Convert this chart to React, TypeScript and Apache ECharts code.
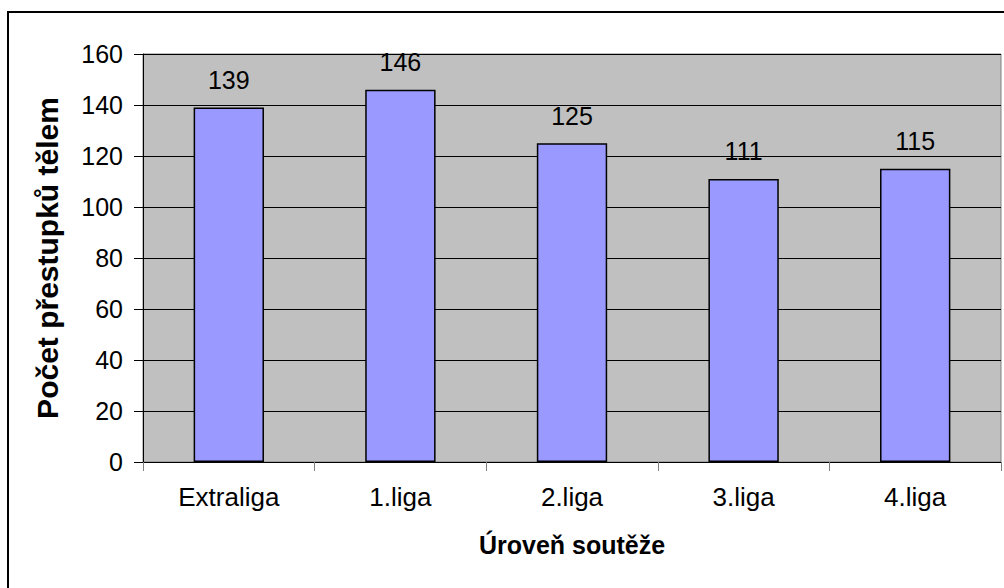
import React, { useEffect, useRef } from "react";
import * as echarts from "echarts";

const categories = ["Extraliga", "1.liga", "2.liga", "3.liga", "4.liga"];
const values = [139, 146, 125, 111, 115];
const xName = "Úroveň soutěže";
const yName = "Počet přestupků tělem";

export default function App() {
  const ref = useRef<HTMLDivElement>(null);
  useEffect(() => {
    const chart = echarts.init(ref.current!, null, { renderer: "svg" });
    const font = "Arial, 'Liberation Sans', sans-serif";
    chart.setOption({
      animation: false,
      backgroundColor: "#ffffff",
      textStyle: { fontFamily: font },
      graphic: [
        {
          type: "rect",
          shape: { x: 8, y: 12, width: 1010, height: 600 },
          style: { fill: "none", stroke: "#000", lineWidth: 2 },
          silent: true,
        },
      ],
      grid: {
        left: 143,
        right: 3,
        top: 54,
        bottom: 126,
        show: true,
        backgroundColor: "#C0C0C0",
        borderColor: "#808080",
        borderWidth: 1,
      },
      xAxis: {
        type: "category",
        data: categories,
        name: xName,
        nameLocation: "middle",
        nameGap: 70,
        nameTextStyle: { fontSize: 25, fontWeight: "bold", color: "#000", fontFamily: font },
        axisLine: { lineStyle: { color: "#000", width: 1 } },
        axisTick: { show: true, length: 9, lineStyle: { color: "#808080" } },
        axisLabel: { fontSize: 26, color: "#000", margin: 22, fontFamily: font },
      },
      yAxis: {
        type: "value",
        min: 0,
        max: 160,
        interval: 20,
        name: yName,
        nameLocation: "middle",
        nameGap: 81,
        nameTextStyle: { fontSize: 30, fontWeight: "bold", color: "#000", fontFamily: font },
        axisLine: { show: true, lineStyle: { color: "#000", width: 1 } },
        axisTick: { show: true, length: 9, lineStyle: { color: "#000" } },
        axisLabel: { fontSize: 25, color: "#000", margin: 20, fontFamily: font },
        splitLine: { show: true, lineStyle: { color: "#000", width: 1 } },
      },
      series: [
        {
          type: "bar",
          data: values,
          barWidth: "41%",
          itemStyle: { color: "#9999FF", borderColor: "#000", borderWidth: 1.5 },
          label: {
            show: true,
            position: "top",
            distance: 15,
            fontSize: 25,
            color: "#000",
            fontFamily: font,
          },
        },
      ],
    });
    return () => chart.dispose();
  }, []);
  return (
    <div
      ref={ref}
      style={{ position: "absolute", left: 0, top: 0, width: 1004, height: 588 }}
    />
  );
}
